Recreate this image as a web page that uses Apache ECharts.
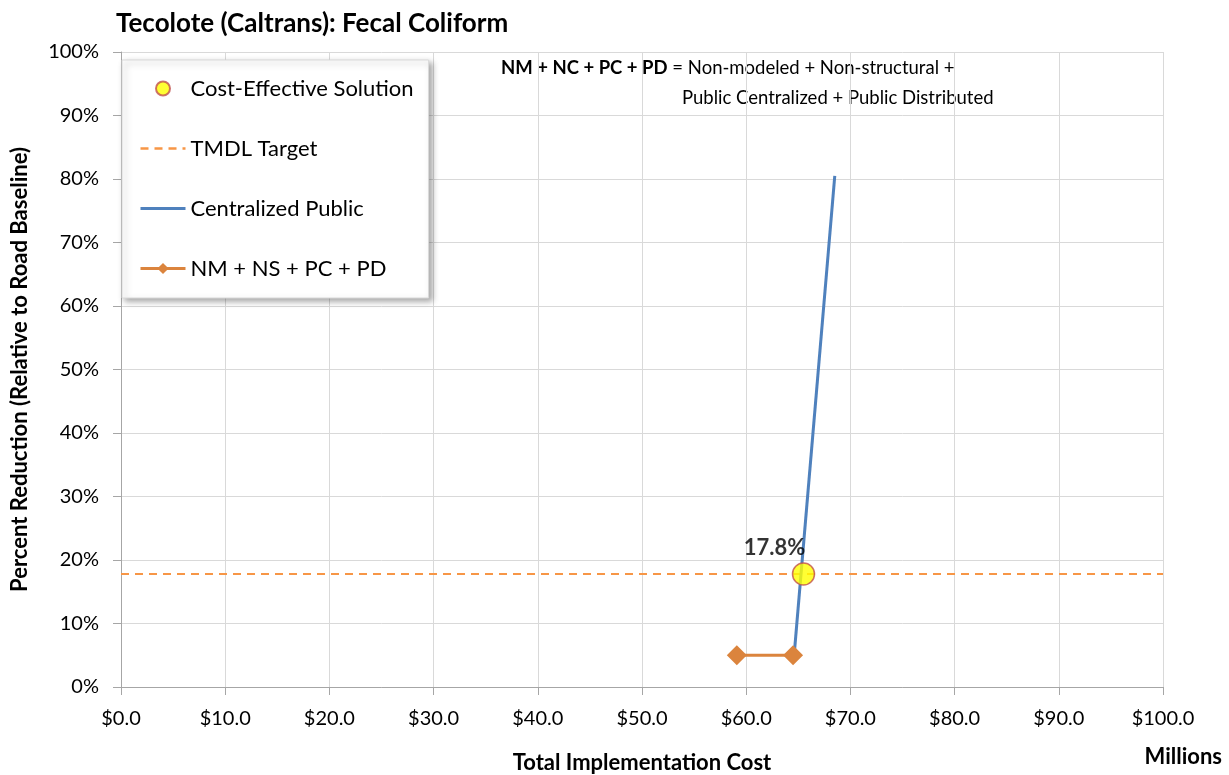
<!DOCTYPE html>
<html>
<head>
<meta charset="utf-8">
<script src="https://cdn.jsdelivr.net/npm/echarts@6/dist/echarts.min.js"></script>
<style>
  html, body { margin: 0; padding: 0; background: #fff; }
  #chart { width: 1229px; height: 775px; }
</style>
</head>
<body>
<div id="chart"></div>
<script>
// values (cost in $ millions, reduction in %)
const xTicks = [0, 10, 20, 30, 40, 50, 60, 70, 80, 90, 100]
const yTicks = [0, 10, 20, 30, 40, 50, 60, 70, 80, 90, 100]
const solutionPoint = [65.5, 17.8]
const tmdlTarget = 17.8
const tmdlCost = [0, 100]
const centralizedCost = [64.6, 68.5]
const centralizedReduction = [5.0, 80.5]
const nmCost = [59.1, 64.5]
const nmReduction = [5.0, 5.0]

const font = 'Lato'
const chart = echarts.init(document.getElementById('chart'))

const option = {
  backgroundColor: '#fff',
  animation: false,
  textStyle: { fontFamily: font },
  title: {
    text: 'Tecolote (Caltrans): Fecal Coliform',
    left: 111, top: 6,
    textStyle: { fontFamily: font, fontSize: 26, fontWeight: 'bold', color: '#000' }
  },
  grid: { left: 121, right: 66, top: 52, bottom: 88, outerBoundsMode: 'none', containLabel: false },
  legend: {
    orient: 'vertical',
    left: 122, top: 60,
    padding: [17, 15, 18, 17],
    itemGap: 37,
    itemWidth: 45, itemHeight: 14,
    backgroundColor: '#fff',
    borderColor: '#d9d9d9', borderWidth: 1,
    shadowBlur: 6, shadowOffsetX: 3, shadowOffsetY: 3, shadowColor: 'rgba(0,0,0,0.35)',
    textStyle: { fontFamily: font, fontSize: 22, color: '#000', lineHeight: 23 },
    data: [
      'Cost-Effective Solution',
      { name: 'TMDL Target', itemStyle: { opacity: 0 }, lineStyle: { width: 2.5 } },
      { name: 'Centralized Public', itemStyle: { opacity: 0 }, lineStyle: { width: 3 } },
      { name: 'NM + NS + PC + PD', lineStyle: { width: 3 } }
    ]
  },
  xAxis: {
    type: 'value', min: 0, max: 100, interval: 10,
    name: 'Total Implementation Cost', nameLocation: 'middle', nameGap: 65,
    nameTextStyle: { fontFamily: font, fontSize: 22, fontWeight: 'bold', color: '#000' },
    axisLine: { show: true, lineStyle: { color: '#a6a6a6' } },
    axisTick: { show: true, length: 8, lineStyle: { color: '#a6a6a6' } },
    axisLabel: { fontFamily: font, fontSize: 20, color: '#000', margin: 22, formatter: v => '$' + v.toFixed(1) },
    splitLine: { show: true, lineStyle: { color: '#d9d9d9' } }
  },
  yAxis: {
    type: 'value', min: 0, max: 100, interval: 10,
    name: 'Percent Reduction (Relative to Road Baseline)', nameLocation: 'middle', nameGap: 90,
    nameTextStyle: { fontFamily: font, fontSize: 22, fontWeight: 'bold', color: '#000' },
    axisLine: { show: true, lineStyle: { color: '#a6a6a6' } },
    axisTick: { show: true, length: 8, lineStyle: { color: '#a6a6a6' } },
    axisLabel: { fontFamily: font, fontSize: 20, color: '#000', margin: 22, formatter: v => v + '%' },
    splitLine: { show: true, lineStyle: { color: '#d9d9d9' } }
  },
  graphic: [
    {
      type: 'text', left: 501, top: 59,
      style: {
        text: '{b|NM + NC + PC + PD} = Non-modeled + Non-structural +',
        rich: {
          b: { fontFamily: font, fontSize: 18.5, fontWeight: 'bold', fill: '#000' }
        },
        fontFamily: font, fontSize: 18.5, fill: '#000'
      }
    },
    {
      type: 'text', left: 682, top: 89,
      style: { text: 'Public Centralized + Public Distributed', fontFamily: font, fontSize: 18.5, fill: '#000' }
    },
    {
      type: 'text', right: 7, top: 746,
      style: { text: 'Millions', fontFamily: font, fontSize: 22, fontWeight: 'bold', fill: '#000' }
    }
  ],
  series: [
    {
      name: 'TMDL Target',
      type: 'line',
      data: tmdlCost.map(c => [c, tmdlTarget]),
      symbol: 'none',
      lineStyle: { color: '#F79646', width: 2, type: [8, 6] },
      itemStyle: { color: '#F79646' },
      z: 2
    },
    {
      name: 'Centralized Public',
      type: 'line',
      data: centralizedCost.map((c, i) => [c, centralizedReduction[i]]),
      symbol: 'none',
      lineStyle: { color: '#4F81BD', width: 3 },
      itemStyle: { color: '#4F81BD' },
      z: 3
    },
    {
      name: 'NM + NS + PC + PD',
      type: 'line',
      data: nmCost.map((c, i) => [c, nmReduction[i]]),
      symbol: 'diamond', symbolSize: 20,
      lineStyle: { color: '#DB843D', width: 3 },
      itemStyle: { color: '#DB843D' },
      z: 4
    },
    {
      name: 'Cost-Effective Solution',
      type: 'scatter',
      data: [solutionPoint],
      symbol: 'circle', symbolSize: 22,
      itemStyle: { color: '#FFFF00', borderColor: '#C0504D', borderWidth: 1.5 },
      label: {
        show: true, position: 'top', distance: 3, offset: [-29, 0],
        formatter: p => p.value[1].toFixed(1) + '%',
        fontFamily: font, fontSize: 22, fontWeight: 'bold', color: '#000'
      },
      z: 5
    }
  ]
}

chart.setOption(option)
</script>
</body>
</html>
